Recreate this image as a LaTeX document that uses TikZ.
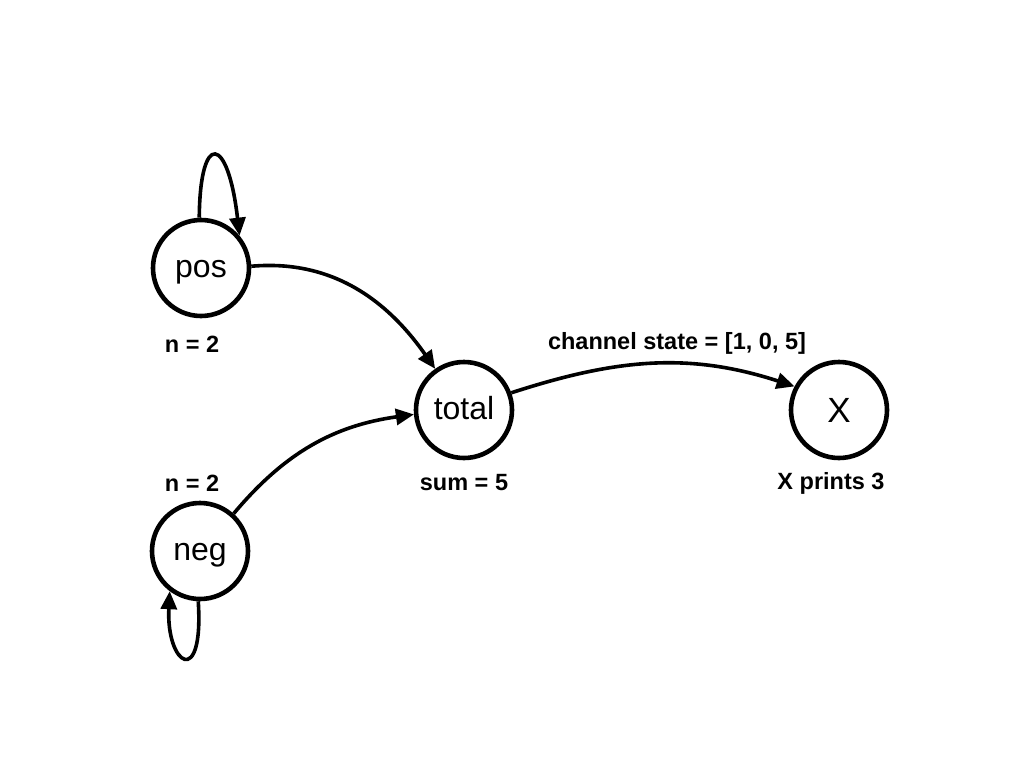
\documentclass[tikz,border=0pt]{standalone}
\usepackage{fontspec}
\setmainfont{Liberation Sans}
\usetikzlibrary{arrows.meta}
\begin{document}
\begin{tikzpicture}[x=1pt,y=-1pt,
  state/.style={draw,circle,line width=4.6pt,minimum size=96pt,inner sep=0pt,font=\fontsize{32}{34}\selectfont,text height=23pt,text depth=5pt},
  lab/.style={font=\bfseries\fontsize{23.5}{25}\selectfont,inner sep=0pt},
  conn/.style={line width=3.6pt,-{Triangle[length=18pt,width=16pt]}}]
\useasboundingbox (0,0) rectangle (1024,768);
\node[state] (pos) at (201,268) {pos};
\node[state] (neg) at (200,551) {neg};
\node[state] (total) at (464,410) {total};
\node[state,font=\fontsize{35}{37}\selectfont,text height=25pt,text depth=0pt] (X) at (839,410) {X};
\node[lab] (l1) at (192,344) {n = 2};
\node[lab] (l2) at (192,483) {n = 2};
\node[lab] (l3) at (464,483) {sum = 5};
\node[lab] (l4) at (831,483) {X prints 3};
\node[lab] (l5) at (677,343) {channel state = [1, 0, 5]};
\draw[conn] (pos.2) to[out=5,in=125] (total.125);
\draw[conn] (neg.48) to[out=50,in=188] (total.185);
\draw[conn] (total.20) to[out=18,in=162] (X.152);
\draw[conn] (pos.92) .. controls (200,130) and (228,135) .. (pos.40);
\draw[conn] (neg.268) .. controls (204,690) and (166,665) .. (neg.233);
\end{tikzpicture}
\end{document}
